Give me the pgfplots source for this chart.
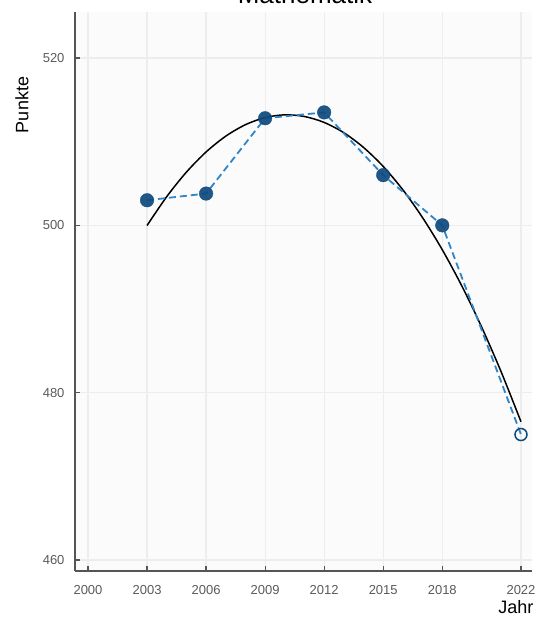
\documentclass[border=0pt]{standalone}
\usepackage{pgfplots}
\pgfplotsset{compat=1.18}
\usepackage{fontspec}
\setmainfont{Liberation Sans}
\definecolor{dotblue}{HTML}{0E4A7E}
\definecolor{dashblue}{HTML}{2E86C8}
\definecolor{spine}{HTML}{555555}
\definecolor{ticklab}{HTML}{5A5A5A}
\definecolor{gridc}{HTML}{EDEDED}
\definecolor{bg}{HTML}{FBFBFB}
\begin{document}
\begin{tikzpicture}[x=1pt,y=1pt]
\begin{axis}[
  at={(75pt,46pt)}, anchor=south west,
  scale only axis, width=457pt, height=559pt,
  xmin=1999.34, xmax=2022.56, ymin=458.69, ymax=525.5,
  axis lines=left,
  axis line style={-, spine, line width=2.5pt},
  xtick={2000,2003,2006,2009,2012,2015,2018,2022},
  ytick={460,480,500,520},
  tick align=inside,
  major tick length=5pt,
  tick style={spine, line width=1.2pt},
  grid=major,
  major grid style={gridc, line width=1.2pt},
  axis background/.style={fill=bg},
  /pgf/number format/assume math mode=true,
  xticklabel style={/pgf/number format/1000 sep=, font=\fontsize{13}{15}\selectfont, text=ticklab, yshift=-11pt},
  yticklabel style={font=\fontsize{13}{15}\selectfont, text=ticklab, xshift=-7pt},
  clip=false,
]
\addplot[black, line width=1.5pt, smooth] coordinates {
(2003,499.98)(2004,503.43)(2005,506.36)(2006,508.77)(2007,510.66)(2008,512.03)
(2009,512.88)(2010,513.21)(2011,513.01)(2012,512.30)(2013,511.07)(2014,509.31)
(2015,507.04)(2016,504.24)(2017,500.92)(2018,497.09)(2019,492.73)(2020,487.85)
(2021,482.45)(2022,476.53)};
\addplot[dashblue, line width=1.8pt, dash pattern=on 7pt off 4pt] coordinates {
(2003,503)(2006,503.8)(2009,512.8)(2012,513.5)(2015,506)(2018,500)(2022,475)};
\addplot[only marks, mark=*, mark size=6.8pt, mark options={draw=dotblue, fill=dotblue, fill opacity=0.92, draw opacity=0.92}] coordinates {
(2003,503)(2006,503.8)(2009,512.8)(2012,513.5)(2015,506)(2018,500)};
\addplot[only marks, mark=o, mark size=6pt, mark options={draw=dotblue, line width=1.5pt}] coordinates {
(2022,475)};
\end{axis}
\node[anchor=base] at (305pt,613pt) {\fontsize{26}{30}\selectfont Mathematik};
\node[rotate=90] at (22pt,512pt) {\fontsize{18}{21}\selectfont Punkte};
\node[anchor=base east] at (537pt,3pt) {\fontsize{18}{21}\selectfont Jahr};
\pgfresetboundingbox
\useasboundingbox (0pt,0pt) rectangle (540pt,617pt);
\end{tikzpicture}
\end{document}
